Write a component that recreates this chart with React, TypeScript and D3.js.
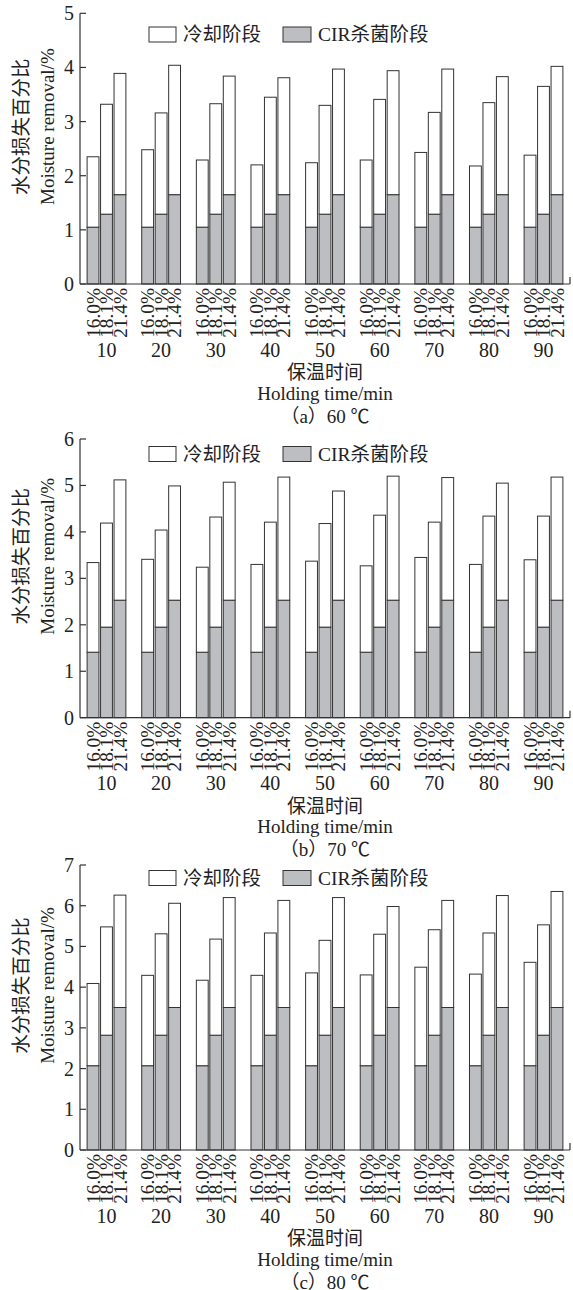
import React from "react";
import * as d3 from "d3";

// ---------- data ----------
const holdingTimes = ["10", "20", "30", "40", "50", "60", "70", "80", "90"];
const moistureLevels = ["16.0%", "18.1%", "21.4%"];
const seriesNames = ["冷却阶段", "CIR杀菌阶段"];

// (a) 60 ℃ — CIR stage and cooling stage, per moisture level
const a16CIR = [1.05, 1.05, 1.05, 1.05, 1.05, 1.05, 1.05, 1.05, 1.05];
const a18CIR = [1.29, 1.29, 1.29, 1.29, 1.29, 1.29, 1.29, 1.29, 1.29];
const a21CIR = [1.65, 1.65, 1.65, 1.65, 1.65, 1.65, 1.65, 1.65, 1.65];
const a16Cool = [1.3, 1.43, 1.24, 1.15, 1.19, 1.24, 1.38, 1.13, 1.33];
const a18Cool = [2.03, 1.87, 2.04, 2.16, 2.01, 2.12, 1.88, 2.06, 2.36];
const a21Cool = [2.24, 2.39, 2.19, 2.16, 2.32, 2.29, 2.32, 2.18, 2.37];

// (b) 70 ℃
const b16CIR = [1.41, 1.41, 1.41, 1.41, 1.41, 1.41, 1.41, 1.41, 1.41];
const b18CIR = [1.95, 1.95, 1.95, 1.95, 1.95, 1.95, 1.95, 1.95, 1.95];
const b21CIR = [2.53, 2.53, 2.53, 2.53, 2.53, 2.53, 2.53, 2.53, 2.53];
const b16Cool = [1.93, 2.0, 1.83, 1.89, 1.96, 1.86, 2.04, 1.89, 1.99];
const b18Cool = [2.24, 2.09, 2.37, 2.26, 2.23, 2.41, 2.26, 2.39, 2.39];
const b21Cool = [2.59, 2.46, 2.54, 2.65, 2.35, 2.67, 2.64, 2.52, 2.65];

// (c) 80 ℃
const c16CIR = [2.07, 2.07, 2.07, 2.07, 2.07, 2.07, 2.07, 2.07, 2.07];
const c18CIR = [2.82, 2.82, 2.82, 2.82, 2.82, 2.82, 2.82, 2.82, 2.82];
const c21CIR = [3.5, 3.5, 3.5, 3.5, 3.5, 3.5, 3.5, 3.5, 3.5];
const c16Cool = [2.02, 2.22, 2.1, 2.22, 2.28, 2.23, 2.42, 2.25, 2.54];
const c18Cool = [2.66, 2.49, 2.36, 2.51, 2.33, 2.48, 2.59, 2.51, 2.71];
const c21Cool = [2.76, 2.56, 2.7, 2.63, 2.7, 2.48, 2.63, 2.75, 2.85];

const panelCaptions = ["（a）60 ℃", "（b）70 ℃", "（c）80 ℃"];
const panelYMax = [5, 6, 7];

// ---------- layout ----------
const W = 573;
const H = 1290;
const LEFT = 80;
const RIGHT = 570;
const panelLayout = [
  { top: 13.3, bottom: 284, legendY: 27 },
  { top: 439, bottom: 717.7, legendY: 446.5 },
  { top: 865, bottom: 1150, legendY: 870.5 },
];

const SERIF = "'Liberation Serif', 'Times New Roman', 'Noto Sans CJK SC', serif";
const CJK = "'Noto Sans CJK SC', sans-serif";
const GRAY = "#bdbec2";
const STROKE = "#333333";

type Row = { time: string; level: string; cir: number; cool: number };

function buildRows(cir: number[][], cool: number[][]): Row[] {
  const rows: Row[] = [];
  holdingTimes.forEach((t, i) => {
    moistureLevels.forEach((lv, j) => {
      rows.push({ time: t, level: lv, cir: cir[j][i], cool: cool[j][i] });
    });
  });
  return rows;
}

const panelsData: Row[][] = [
  buildRows([a16CIR, a18CIR, a21CIR], [a16Cool, a18Cool, a21Cool]),
  buildRows([b16CIR, b18CIR, b21CIR], [b16Cool, b18Cool, b21Cool]),
  buildRows([c16CIR, c18CIR, c21CIR], [c16Cool, c18Cool, c21Cool]),
];

const x0 = d3
  .scaleBand<string>()
  .domain(holdingTimes)
  .range([LEFT, RIGHT])
  .paddingInner(0.29)
  .paddingOuter(0.13);
const x1 = d3
  .scaleBand<string>()
  .domain(moistureLevels)
  .range([0, x0.bandwidth()])
  .paddingInner(0.12);

function Panel({ idx }: { idx: number }) {
  const lay = panelLayout[idx];
  const yMax = panelYMax[idx];
  const y = d3.scaleLinear().domain([0, yMax]).range([lay.bottom, lay.top]);
  const rows = panelsData[idx];
  const stacked = d3.stack<Row>().keys(["cir", "cool"])(rows);
  const ticks = d3.range(0, yMax + 1);
  const midY = (lay.top + lay.bottom) / 2 - 22;
  const base = lay.bottom;
  const ly = lay.legendY;

  return (
    <g>
      {/* bars */}
      {stacked.map((layer) => (
        <g key={layer.key}>
          {layer.map((d, i) => {
            const r = d.data;
            const bx = (x0(r.time) as number) + (x1(r.level) as number);
            return (
              <rect
                key={i}
                x={bx}
                y={y(d[1])}
                width={x1.bandwidth()}
                height={y(d[0]) - y(d[1])}
                fill={layer.key === "cir" ? GRAY : "#ffffff"}
                stroke={STROKE}
                strokeWidth={1}
              />
            );
          })}
        </g>
      ))}
      {/* axes */}
      <line x1={LEFT} x2={LEFT} y1={lay.top} y2={base} stroke={STROKE} strokeWidth={1.2} />
      <line x1={LEFT} x2={RIGHT} y1={base} y2={base} stroke={STROKE} strokeWidth={1.2} />
      <line x1={RIGHT} x2={RIGHT} y1={base} y2={base - 7} stroke={STROKE} strokeWidth={1.2} />
      {ticks.map((t) => (
        <g key={t}>
          <line x1={LEFT} x2={LEFT + 6} y1={y(t)} y2={y(t)} stroke={STROKE} strokeWidth={1.2} />
          <text
            x={LEFT - 6}
            y={y(t)}
            dy="0.35em"
            textAnchor="end"
            fontFamily={SERIF}
            fontSize={20}
            fill="#222"
          >
            {t}
          </text>
        </g>
      ))}
      {/* rotated moisture labels */}
      {rows.map((r, i) => {
        const cx = (x0(r.time) as number) + (x1(r.level) as number) + x1.bandwidth() / 2;
        return (
          <text
            key={i}
            transform={`translate(${cx},${base + 4}) rotate(-90)`}
            dy="0.34em"
            textAnchor="end"
            fontFamily={SERIF}
            fontSize={19.3}
            fill="#222"
          >
            {r.level}
          </text>
        );
      })}
      {/* holding time labels */}
      {holdingTimes.map((t) => (
        <text
          key={t}
          x={(x0(t) as number) + x0.bandwidth() / 2}
          y={base + 72.5}
          textAnchor="middle"
          fontFamily={SERIF}
          fontSize={20}
          fill="#222"
        >
          {t}
        </text>
      ))}
      <text x={(LEFT + RIGHT) / 2} y={base + 95} textAnchor="middle" fontFamily={CJK} fontSize={19} fill="#222">
        保温时间
      </text>
      <text x={(LEFT + RIGHT) / 2} y={base + 115.5} textAnchor="middle" fontFamily={SERIF} fontSize={19} fill="#222">
        Holding time/min
      </text>
      <text x={(LEFT + RIGHT) / 2} y={base + 138.5} textAnchor="middle" fontFamily={SERIF} fontSize={19} fill="#222">
        {panelCaptions[idx]}
      </text>
      {/* y-axis title */}
      <text
        transform={`translate(21,${midY}) rotate(-90)`}
        dy="0.35em"
        textAnchor="middle"
        fontFamily={CJK}
        fontSize={19.5}
        fill="#222"
      >
        水分损失百分比
      </text>
      <text
        transform={`translate(47,${midY}) rotate(-90)`}
        dy="0.35em"
        textAnchor="middle"
        fontFamily={SERIF}
        fontSize={19}
        fill="#222"
      >
        Moisture removal/%
      </text>
      {/* legend */}
      <rect x={149} y={ly} width={27} height={15} fill="#ffffff" stroke={STROKE} strokeWidth={1} />
      <text x={183} y={ly + 7.5} dy="0.35em" fontFamily={CJK} fontSize={19.5} fill="#222">
        {seriesNames[0]}
      </text>
      <rect x={283} y={ly} width={28} height={15} fill={GRAY} stroke={STROKE} strokeWidth={1} />
      <text x={318} y={ly + 7.5} dy="0.35em" fontFamily={SERIF} fontSize={19.5} fill="#222">
        <tspan fontFamily={SERIF}>CIR</tspan>
        <tspan fontFamily={CJK}>杀菌阶段</tspan>
      </text>
    </g>
  );
}

export default function App() {
  return (
    <svg
      width={W}
      height={H}
      viewBox={`0 0 ${W} ${H}`}
      style={{ position: "absolute", left: 0, top: 0, background: "#ffffff" }}
    >
      <rect x={0} y={0} width={W} height={H} fill="#ffffff" />
      {[0, 1, 2].map((i) => (
        <Panel key={i} idx={i} />
      ))}
    </svg>
  );
}
